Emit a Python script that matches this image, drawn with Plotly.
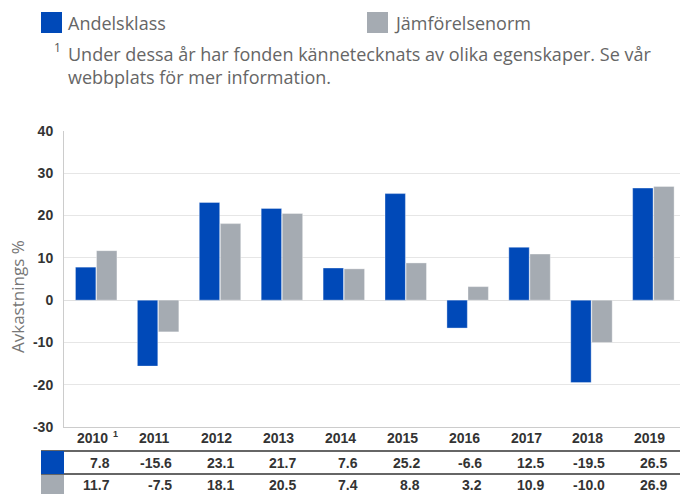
import plotly.graph_objects as go

years = ["2010", "2011", "2012", "2013", "2014", "2015", "2016", "2017", "2018", "2019"]
andelsklass = [7.8, -15.6, 23.1, 21.7, 7.6, 25.2, -6.6, 12.5, -19.5, 26.5]
jamforelse = [11.7, -7.5, 18.1, 20.5, 7.4, 8.8, 3.2, 10.9, -10.0, 26.9]
series_names = ["Andelsklass", "Jämförelsenorm"]
y_ticks = [40, 30, 20, 10, 0, -10, -20, -30]
footnote = "Under dessa år har fonden kännetecknats av olika egenskaper. Se vår<br>webbplats för mer information."

BLUE = "#0049b8"
GRAY = "#a5abb2"
W, H = 680, 494
L, T, B, R = 64, 131, 67, 0
PW, PH = W - L - R, H - T - B
NARROW = "Liberation Sans Narrow, Arial Narrow, Liberation Sans, Arial"


def px(x):
    return (x - L) / PW


def py(y):
    return (H - B - y) / PH


xs = list(range(len(years)))
fig = go.Figure()
fig.add_trace(go.Bar(x=xs, y=andelsklass, name=series_names[0], marker=dict(color=BLUE, line=dict(color="rgba(255,255,255,0.35)", width=1)), showlegend=False))
fig.add_trace(go.Bar(x=xs, y=jamforelse, name=series_names[1], marker=dict(color=GRAY, line=dict(color="rgba(255,255,255,0.35)", width=1)), showlegend=False))

fig.update_layout(
    width=W, height=H, margin=dict(l=L, r=R, t=T, b=B),
    paper_bgcolor="white", plot_bgcolor="white",
    barmode="group", bargap=0.32, bargroupgap=0.03,
    font=dict(family="Liberation Sans, Arial", color="#444"),
)
fig.update_xaxes(range=[-0.52, 9.43], showticklabels=False, showgrid=False, zeroline=False,
                 showline=True, linecolor="#cccccc", linewidth=1, ticks="")
fig.update_yaxes(range=[-30, 40], tickvals=y_ticks, ticktext=[f"<b>{v}</b>" for v in y_ticks],
                 showgrid=True, gridcolor="#e6e6e6", gridwidth=1, zeroline=True, zerolinecolor="#e0e0e0",
                 zerolinewidth=1, showline=True, linecolor="#cccccc", linewidth=1,
                 tickfont=dict(family=NARROW, size=14, color="#333"),
                 ticklabelstandoff=7, ticks="")

ann = []
# legend
for i, (name, col, sx) in enumerate([(series_names[0], BLUE, 41), (series_names[1], GRAY, 367)]):
    fig.add_shape(type="rect", xref="paper", yref="paper", x0=px(sx), x1=px(sx + 21), y0=py(33), y1=py(12),
                  fillcolor=col, line=dict(width=0), layer="above")
    ann.append(dict(text=name, xref="paper", yref="paper", x=px(sx + 25), y=py(23), xanchor="left", yanchor="middle",
                    showarrow=False, font=dict(family="Open Sans", size=18, color="#666")))
# footnote
ann.append(dict(text="1", xref="paper", yref="paper", x=px(63), y=py(47), xanchor="right", yanchor="middle",
                showarrow=False, font=dict(family="Open Sans", size=12, color="#555")))
ann.append(dict(text=footnote, xref="paper", yref="paper", x=px(66), y=py(40), xanchor="left", yanchor="top",
                align="left", showarrow=False, font=dict(family="Open Sans", size=18, color="#666")))
# y title
ann.append(dict(text="Avkastnings %", xref="paper", yref="paper", x=px(17), y=py(297), xanchor="center", yanchor="middle",
                textangle=-90, showarrow=False, font=dict(family="Open Sans", size=17, color="#777")))

# table
tfont = dict(family=NARROW, size=14, color="#333")
for i, yr in enumerate(years):
    ann.append(dict(text=f"<b>{yr}</b>", xref="x", yref="paper", x=i, y=py(438), xanchor="right", yanchor="middle",
                    xshift=14, showarrow=False, font=tfont))
    ann.append(dict(text=f"<b>{andelsklass[i]:.1f}</b>", xref="x", yref="paper", x=i, y=py(463), xanchor="right",
                    yanchor="middle", xshift=16, showarrow=False, font=tfont))
    ann.append(dict(text=f"<b>{jamforelse[i]:.1f}</b>", xref="x", yref="paper", x=i, y=py(485), xanchor="right",
                    yanchor="middle", xshift=16, showarrow=False, font=tfont))
ann.append(dict(text="<b>1</b>", xref="x", yref="paper", x=0, y=py(434), xanchor="left", yanchor="middle",
                xshift=15, showarrow=False, font=dict(family=NARROW, size=9, color="#333")))

for yy in (451, 474):
    fig.add_shape(type="line", xref="paper", yref="paper", x0=px(41), x1=px(W), y0=py(yy), y1=py(yy),
                  line=dict(color="#333", width=1.5))
fig.add_shape(type="rect", xref="paper", yref="paper", x0=px(41), x1=px(64), y0=py(474), y1=py(451),
              fillcolor=BLUE, line=dict(width=0))
fig.add_shape(type="rect", xref="paper", yref="paper", x0=px(41), x1=px(64), y0=py(494), y1=py(475),
              fillcolor=GRAY, line=dict(width=0))

fig.update_layout(annotations=ann)
fig.write_html("out.html", config={"displayModeBar": False},
               post_script="document.body.style.margin='0';document.body.style.overflow='hidden';")
